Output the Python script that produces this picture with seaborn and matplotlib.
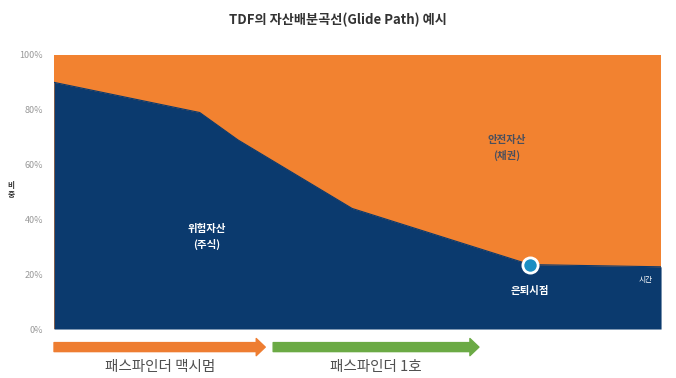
import matplotlib
matplotlib.use("Agg")
import matplotlib.pyplot as plt
import seaborn as sns
import pandas as pd

# glide path: time (0 = start, 100 = end of axis) vs share of risk assets (%)
time = [0, 24.0, 30.3, 49.1, 78.4, 100]
stock = [90, 79, 69, 44, 23.5, 22.7]
retire_time = 78.4
retire_stock = 23.5
yticks = [0, 20, 40, 60, 80, 100]
ytick_labels = ["0%", "20%", "40%", "60%", "80%", "100%"]
funds = ["패스파인더 맥시멈", "패스파인더 1호"]
fund_spans = [(0, 34.8), (36.1, 70.0)]

sns.set_theme(style="white")
plt.rcParams['font.family'] = ['Noto Sans CJK KR', 'DejaVu Sans']

navy = "#0B3A6E"
orange = "#F28230"
arrow_cols = ["#EE7D31", "#6BAA45"]

df = pd.DataFrame({"time": time, "stock": stock})

fig = plt.figure(figsize=(6.76, 3.78), dpi=100)
ax = fig.add_axes([0.0799, 0.1296, 0.898, 0.725])

ax.fill_between(df["time"], 0, 100, color=orange, linewidth=0)
ax.fill_between(df["time"], 0, df["stock"], color=navy, linewidth=0)
sns.lineplot(data=df, x="time", y="stock", ax=ax, color=navy, linewidth=0.8)
sns.scatterplot(x=[retire_time], y=[retire_stock], ax=ax, s=120, color="#1B8EC2",
                edgecolor="white", linewidth=2, zorder=5)

ax.set_xlim(0, 100)
ax.set_ylim(0, 100)
ax.set_xticks([])
ax.set_yticks(yticks)
ax.set_yticklabels(ytick_labels, fontsize=6.5, color="#999999")
ax.tick_params(axis="y", length=0, pad=8)
ax.set_xlabel("")
ax.set_ylabel("")
for s in ax.spines.values():
    s.set_visible(False)

# texts inside the areas
ax.text(74.6, 66, "안전자산\n(채권)", ha="center", va="center", fontsize=7.5,
        color="#4b4f5c", fontweight="bold", linespacing=1.6)
ax.text(25.2, 33.6, "위험자산\n(주식)", ha="center", va="center", fontsize=7.5,
        color="white", fontweight="bold", linespacing=1.6)
ax.text(retire_time, 13.9, "은퇴시점", ha="center", va="center", fontsize=7.5,
        color="white", fontweight="bold")
ax.text(97.4, 17.9, "시간", ha="center", va="center", fontsize=5.5, color="white")

# arrows + fund names below the axis
for name, (x0, x1), c in zip(funds, fund_spans, arrow_cols):
    ax.annotate("", xy=(x1, -0.066), xytext=(x0, -0.066),
                xycoords=("data", "axes fraction"), textcoords=("data", "axes fraction"),
                arrowprops=dict(arrowstyle="simple,head_length=0.5,head_width=0.95,tail_width=0.5",
                                mutation_scale=13, color=c, shrinkA=0, shrinkB=0),
                annotation_clip=False)
    ax.text((x0 + x1) / 2, -0.139, name, transform=ax.get_xaxis_transform(),
            ha="center", va="center", fontsize=10.5, color="#505050", fontweight="medium")

fig.text(0.5, 0.947, "TDF의 자산배분곡선(Glide Path) 예시", ha="center", va="center",
         fontsize=9.5, fontweight="bold", color="#333333")
fig.text(0.016, 0.497, "비\n중", ha="center", va="center", fontsize=5.5,
         fontweight="bold", color="#333333", linespacing=1.1)

fig.savefig("out.png", dpi=100)
